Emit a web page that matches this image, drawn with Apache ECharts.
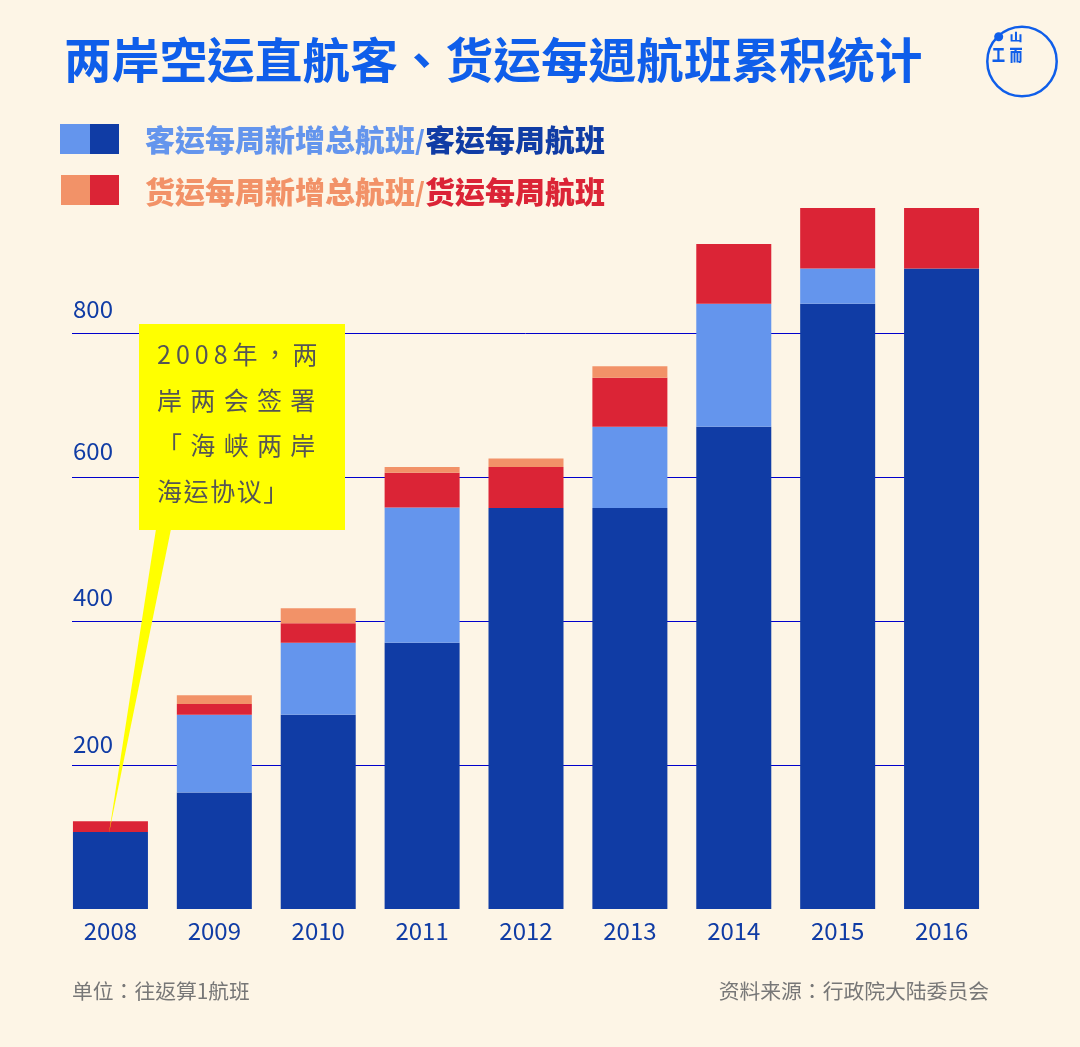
<!DOCTYPE html>
<html>
<head>
<meta charset="utf-8">
<style>
html,body{margin:0;padding:0;background:#fdf5e6;}
#chart{width:1080px;height:1047px;}
</style>
<script src="https://cdn.jsdelivr.net/npm/echarts@6/dist/echarts.min.js"></script>
</head>
<body>
<div id="chart"></div>
<script>
var years = ['2008','2009','2010','2011','2012','2013','2014','2015','2016'];
// 从下往上堆叠
var passengerWeekly = [107,162,270,370,557,557,670,841,890];
var passengerNew = [0,108,100,188,0,113,171,49,0];
var cargoWeekly = [15,15,27,48,57,68,83,84,84];
var cargoNew = [0,12,21,8,12,16,0,0,0];

var yMax = 974;
var sans = '"Noto Sans CJK TC","Noto Sans",sans-serif';
var bg = '#fdf5e6', darkBlue = '#103ca5', lightBlue = '#6495ed', red = '#db2436', orange = '#f29268', titleBlue = '#0f5eea';

function barSeries(name, data, color) {
	return {
		name: name,
		type: 'bar',
		stack: 'total',
		xAxisIndex: 1,
		yAxisIndex: 1,
		barWidth: 75,
		data: data,
		itemStyle: {color: color},
		animation: false
	};
}

function noteText(y, text) {
	return {type: 'text', z: 21, x: 157, y: y, style: {text: text, font: '25px ' + sans, fill: '#555555', verticalAlign: 'middle'}};
}

function logoText(x, y, text, size, scaleY) {
	return {type: 'text', x: x, y: y, scaleY: scaleY, style: {text: text, font: '900 ' + size + 'px ' + sans, fill: titleBlue, align: 'center', verticalAlign: 'middle'}};
}

var chart = echarts.init(document.getElementById('chart'));
chart.setOption({
	backgroundColor: bg,
	animation: false,
	textStyle: {fontFamily: sans},
	title: {
		text: '两岸空运直航客、货运每週航班累积统计',
		left: 59,
		top: 31,
		textStyle: {fontFamily: sans, fontSize: 47.7, fontWeight: 700, color: titleBlue}
	},
	// 第一个grid只画网格线和y轴，第二个grid画柱子
	grid: [
		{left: 72, width: 907, top: 208, height: 701},
		{left: 58.5, width: 935, top: 208, height: 701}
	],
	xAxis: [
		{type: 'category', gridIndex: 0, data: years, show: false},
		{
			type: 'category',
			gridIndex: 1,
			data: years,
			axisLine: {show: false},
			axisTick: {show: false},
			axisLabel: {color: darkBlue, fontSize: 24, margin: 10}
		}
	],
	yAxis: [
		{
			type: 'value',
			gridIndex: 0,
			min: 0,
			max: yMax,
			interval: 200,
			axisLine: {show: false},
			axisTick: {show: false},
			splitLine: {showMinLine: false, showMaxLine: false, lineStyle: {color: '#0000cc', width: 1}},
			axisLabel: {
				inside: true,
				margin: 1,
				showMinLabel: false,
				showMaxLabel: false,
				verticalAlign: 'bottom',
				// 原图每个刻度标签离线的距离不一样
				formatter: function (v) { return '{t' + v + '|' + v + '}'; },
				rich: {
					t200: {color: darkBlue, fontSize: 24, padding: [0,0,9,0]},
					t400: {color: darkBlue, fontSize: 24, padding: [0,0,12,0]},
					t600: {color: darkBlue, fontSize: 24, padding: [0,0,14,0]},
					t800: {color: darkBlue, fontSize: 24, padding: [0,0,12,0]}
				}
			}
		},
		{type: 'value', gridIndex: 1, min: 0, max: yMax, show: false}
	],
	series: [
		barSeries('客运每周航班', passengerWeekly, darkBlue),
		barSeries('客运每周新增总航班', passengerNew, lightBlue),
		barSeries('货运每周航班', cargoWeekly, red),
		barSeries('货运每周新增总航班', cargoNew, orange)
	],
	graphic: [
		{type: 'rect', shape: {x: 60, y: 124, width: 30, height: 30}, style: {fill: lightBlue}},
		{type: 'rect', shape: {x: 90, y: 124, width: 29, height: 30}, style: {fill: darkBlue}},
		{type: 'rect', shape: {x: 61, y: 175, width: 29, height: 30}, style: {fill: orange}},
		{type: 'rect', shape: {x: 90, y: 175, width: 29, height: 30}, style: {fill: red}},
		{
			type: 'text', x: 145, y: 140,
			style: {
				text: '{a|客运每周新增总航班}{s|/}{b|客运每周航班}',
				verticalAlign: 'middle',
				rich: {
					a: {fontFamily: sans, fontSize: 30, fontWeight: 900, fill: lightBlue},
					s: {fontFamily: sans, fontSize: 26, fontWeight: 900, fill: lightBlue},
					b: {fontFamily: sans, fontSize: 30, fontWeight: 900, fill: darkBlue}
				}
			}
		},
		{
			type: 'text', x: 145, y: 192,
			style: {
				text: '{a|货运每周新增总航班}{s|/}{b|货运每周航班}',
				verticalAlign: 'middle',
				rich: {
					a: {fontFamily: sans, fontSize: 30, fontWeight: 900, fill: orange},
					s: {fontFamily: sans, fontSize: 26, fontWeight: 900, fill: orange},
					b: {fontFamily: sans, fontSize: 30, fontWeight: 900, fill: red}
				}
			}
		},
		// 黄色批注
		{type: 'polygon', z: 20, shape: {points: [[156,529],[171,529],[109,833]]}, style: {fill: '#ffff00'}},
		{type: 'rect', z: 20, shape: {x: 139, y: 324, width: 206, height: 206}, style: {fill: '#ffff00'}},
		noteText(354, '2\u20090\u20090\u20098\u2009年\u2009，\u2009两'),
		noteText(400, '岸\u2004两\u2004会\u2004签\u2004署'),
		noteText(445, '「\u2004海\u2004峡\u2004两\u2004岸'),
		noteText(491, '海\u200a运\u200a协\u200a议\u200a」'),
		// 页脚
		{type: 'text', x: 72, y: 991, style: {text: '单位：往返算1航班', font: '20.8px ' + sans, fill: '#777777', verticalAlign: 'middle'}},
		{type: 'text', x: 989, y: 991, style: {text: '资料来源：行政院大陆委员会', font: '20.8px ' + sans, fill: '#777777', align: 'right', verticalAlign: 'middle'}},
		// logo
		{type: 'circle', shape: {cx: 1022, cy: 61.5, r: 34.7}, style: {fill: 'none', stroke: titleBlue, lineWidth: 2.5}},
		{type: 'circle', shape: {cx: 998.7, cy: 36.7, r: 4.5}, style: {fill: titleBlue}},
		logoText(998.5, 55, '工', 13, 1.3),
		logoText(1016, 37.5, '山', 13, 0.8),
		logoText(1016, 55, '而', 13, 1.2)
	]
});
</script>
</body>
</html>
